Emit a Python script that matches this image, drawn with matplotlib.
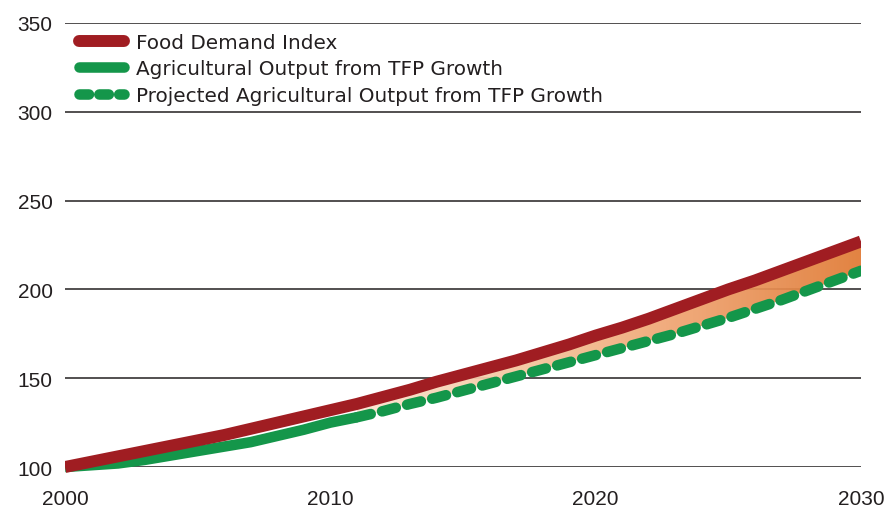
import matplotlib
matplotlib.use("Agg")
import matplotlib.pyplot as plt
import numpy as np
from matplotlib.colors import LinearSegmentedColormap
from matplotlib.patches import Rectangle
from matplotlib.lines import Line2D

plt.rcParams['font.family'] = ['Liberation Sans', 'DejaVu Sans']

# ---- data ----
years = list(range(2000, 2031))
food_demand = [100, 103, 106, 109, 112, 115, 118, 121.5, 125, 128.5, 132,
               135.5, 139.5, 143.5, 148, 152, 156, 160, 164.5, 169, 174,
               178.5, 183.5, 189, 194.5, 200, 205, 210.5, 216, 221.5, 227]
ag_years = list(range(2000, 2012))
ag_output = [100, 101, 102, 104, 106.5, 109, 111.5, 114, 117.5, 121, 125, 128]
proj_years = list(range(2011, 2031))
proj_output = [128, 131.5, 135.5, 139, 143, 147, 151, 155, 159, 163, 167,
               171, 175, 179.5, 184, 189, 194, 199.5, 205, 210.5]
labels = ["Food Demand Index", "Agricultural Output from TFP Growth",
          "Projected Agricultural Output from TFP Growth"]
y_ticks = [100, 150, 200, 250, 300, 350]
x_ticks = [2000, 2010, 2020, 2030]

RED = "#a01d22"
GREEN = "#14964a"
TXT = "#231f20"

fig = plt.figure(figsize=(8.88, 5.10), dpi=100)
ax = fig.add_axes([65/888, 1-468/510, (861-65)/888, (468-24)/510])
ax.set_xlim(2000, 2030)
ax.set_ylim(100, 350)
for s in ax.spines.values():
    s.set_visible(False)
ax.set_yticks(y_ticks)
ax.set_xticks(x_ticks)
ax.tick_params(length=0, labelsize=15, colors=TXT)
ax.tick_params(axis='y', pad=9)
ax.tick_params(axis='x', pad=16)
ax.grid(axis='y', color=TXT, linewidth=1.1, zorder=0)
ax.grid(axis='x', visible=False)
ax.set_axisbelow(True)

clip = Rectangle((0, -0.1), 1, 1.2, transform=ax.transAxes, visible=False)
ax.add_patch(clip)

# gradient fill between demand and projected output
fd = dict(zip(years, food_demand))
top = [fd[y] for y in proj_years]
poly = ax.fill_between(proj_years, proj_output, top, color='none', zorder=1)
cmap = LinearSegmentedColormap.from_list(
    "g", ["#fce6d2", "#f5c59d", "#eea06c", "#e07a34"])
grad = np.linspace(0, 1, 256).reshape(1, -1)
im = ax.imshow(grad, extent=[proj_years[0], proj_years[-1], 100, 260],
               aspect='auto', cmap=cmap, zorder=1, alpha=0.93)
path = poly.get_paths()[0]
im.set_clip_path(path, transform=ax.transData)
ax.set_xlim(2000, 2030)
ax.set_ylim(100, 350)

l1, = ax.plot(ag_years, ag_output, color=GREEN, lw=7.6,
              solid_capstyle='butt', solid_joinstyle='round', zorder=2)
l2, = ax.plot(proj_years, proj_output, color=GREEN, lw=7.6,
              dashes=(1.35, 1.1), dash_capstyle='round', zorder=2)
l3, = ax.plot(years, food_demand, color=RED, lw=8.6,
              solid_capstyle='butt', solid_joinstyle='round', zorder=3)
for l in (l1, l2, l3):
    l.set_clip_path(clip)

handles = [
    Line2D([], [], color=RED, lw=8.6, solid_capstyle='round'),
    Line2D([], [], color=GREEN, lw=7.6, solid_capstyle='round'),
    Line2D([], [], color=GREEN, lw=7.6, dashes=(0.9, 0.98),
           dash_capstyle='round'),
]
leg = ax.legend(handles, labels, loc='upper left',
                bbox_to_anchor=(14/796, 1 - 10/444), frameon=False,
                prop={'family': ['DejaVu Sans'], 'size': 14.4},
                handlelength=2.25, handletextpad=0.6,
                labelspacing=0.37, borderpad=0, borderaxespad=0)
for t in leg.get_texts():
    t.set_color(TXT)

fig.savefig("out.png", dpi=100)
